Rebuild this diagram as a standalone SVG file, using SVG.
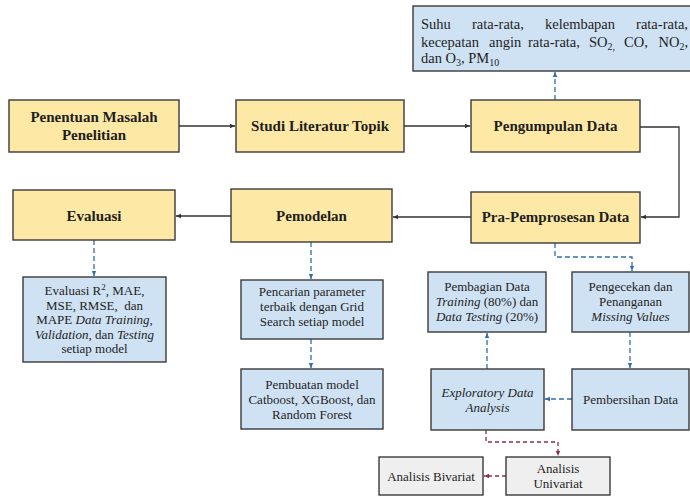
<svg xmlns="http://www.w3.org/2000/svg" width="690" height="496" viewBox="0 0 690 496">
<defs>
<marker id="aK" markerWidth="6" markerHeight="6" refX="5" refY="3" orient="auto" markerUnits="userSpaceOnUse"><path d="M0,0.8 L5,3 L0,5.2 z" fill="#333"/></marker>
<marker id="aB" markerWidth="6" markerHeight="6" refX="5" refY="3" orient="auto" markerUnits="userSpaceOnUse"><path d="M0,0.8 L5,3 L0,5.2 z" fill="#2f6fb0"/></marker>
<marker id="aM" markerWidth="6" markerHeight="6" refX="5" refY="3" orient="auto" markerUnits="userSpaceOnUse"><path d="M0,0.8 L5,3 L0,5.2 z" fill="#8e2a55"/></marker>
</defs>
<style>
.y{fill:#fde8a5;stroke:#3a3a3a;stroke-width:1.4}
.b{fill:#cfe2f3;stroke:#3a3a3a;stroke-width:1.4}
.g{fill:#efefef;stroke:#3a3a3a;stroke-width:1.4}
text{font-family:"Liberation Serif","Times New Roman",serif;fill:#1e1e1e}
.hb{font-size:15px;font-weight:bold;text-anchor:middle}
.n{font-size:13px;text-anchor:middle}
.tp{font-size:14.5px}
.sub{font-size:10px}
.s{fill:none;stroke:#333;stroke-width:1.3;marker-end:url(#aK)}
.d{fill:none;stroke:#2f6fb0;stroke-width:1.3;stroke-dasharray:5 3;marker-end:url(#aB)}
.m{fill:none;stroke:#8e2a55;stroke-width:1.3;stroke-dasharray:4 3;marker-end:url(#aM)}
</style>
<rect x="0" y="0" width="690" height="496" fill="#ffffff"/>

<g id="connectors">
<path class="s" d="M179,126 H235"/>
<path class="s" d="M404,126 H470"/>
<path class="s" d="M640,127 H679 V217 H641"/>
<path class="s" d="M471,217 H393"/>
<path class="s" d="M231,216 H176"/>
<path class="d" d="M555,100 V72"/>
<path class="d" d="M94,240 V276"/>
<path class="d" d="M311,242 V279"/>
<path class="d" d="M311,339 V368"/>
<path class="d" d="M555,243 V257 H632 V271"/>
<path class="d" d="M630,332 V368"/>
<path class="d" d="M572,399 H545"/>
<path class="d" d="M487,369 V333"/>
<path class="m" d="M486,430 V442 H558 V456"/>
<path class="m" d="M506,476 H484"/>
</g>

<g id="node-data-vars">
<rect class="b" x="413" y="6" width="290" height="65"/>
<text class="tp" x="421" y="29">Suhu</text>
<text class="tp" x="472" y="29">rata-rata,</text>
<text class="tp" x="545" y="29">kelembapan</text>
<text class="tp" x="688" y="29" text-anchor="end">rata-rata,</text>
<text class="tp" x="421" y="47">kecepatan</text>
<text class="tp" x="489" y="47">angin</text>
<text class="tp" x="528" y="47">rata-rata,</text>
<text class="tp" x="589" y="47">SO<tspan class="sub" dy="3">2,</tspan></text>
<text class="tp" x="624" y="47">CO,</text>
<text class="tp" x="688" y="47" text-anchor="end">NO<tspan class="sub" dy="3">2</tspan><tspan dy="-3">,</tspan></text>
<text class="tp" x="421" y="63">dan O<tspan class="sub" dy="3">3</tspan><tspan dy="-3">, PM</tspan><tspan class="sub" dy="3">10</tspan></text>
</g>

<g id="node-penentuan">
<rect class="y" x="9" y="100" width="170" height="52"/>
<text class="hb" x="94" y="122">Penentuan Masalah</text>
<text class="hb" x="94" y="140">Penelitian</text>
</g>
<g id="node-studi">
<rect class="y" x="236" y="100" width="168" height="52"/>
<text class="hb" x="320" y="131">Studi Literatur Topik</text>
</g>
<g id="node-pengumpulan">
<rect class="y" x="471" y="100" width="169" height="52"/>
<text class="hb" x="555.5" y="131">Pengumpulan Data</text>
</g>
<g id="node-evaluasi">
<rect class="y" x="13" y="190" width="162" height="50"/>
<text class="hb" x="94" y="221">Evaluasi</text>
</g>
<g id="node-pemodelan">
<rect class="y" x="231" y="189" width="161" height="53"/>
<text class="hb" x="311.5" y="221">Pemodelan</text>
</g>
<g id="node-pra">
<rect class="y" x="471" y="192" width="169" height="51"/>
<text class="hb" x="555.5" y="222">Pra-Pemprosesan Data</text>
</g>

<g id="node-eval-metrics">
<rect class="b" x="23" y="277" width="143" height="85"/>
<text class="n" x="94.5" y="295">Evaluasi R<tspan font-size="9" dy="-5">2</tspan><tspan dy="5">, MAE,</tspan></text>
<text class="n" x="94.5" y="309.5" xml:space="preserve">MSE, RMSE,  dan</text>
<text class="n" x="94.5" y="324">MAPE <tspan font-style="italic">Data Training</tspan>,</text>
<text class="n" x="94.5" y="338.5"><tspan font-style="italic">Validation</tspan>, dan <tspan font-style="italic">Testing</tspan></text>
<text class="n" x="94.5" y="353">setiap model</text>
</g>
<g id="node-pencarian">
<rect class="b" x="241" y="280" width="142" height="59"/>
<text class="n" x="312" y="296">Pencarian parameter</text>
<text class="n" x="312" y="311">terbaik dengan Grid</text>
<text class="n" x="312" y="326">Search setiap model</text>
</g>
<g id="node-pembuatan">
<rect class="b" x="241" y="369" width="142" height="60"/>
<text class="n" x="312" y="388.5">Pembuatan model</text>
<text class="n" x="312" y="403.5">Catboost, XGBoost, dan</text>
<text class="n" x="312" y="418.5">Random Forest</text>
</g>
<g id="node-pembagian">
<rect class="b" x="428" y="272" width="118" height="60"/>
<text class="n" x="487" y="291">Pembagian Data</text>
<text class="n" x="487" y="306"><tspan font-style="italic">Training</tspan> (80%) dan</text>
<text class="n" x="487" y="321"><tspan font-style="italic">Data Testing</tspan> (20%)</text>
</g>
<g id="node-pengecekan">
<rect class="b" x="572" y="272" width="117" height="60"/>
<text class="n" x="630.5" y="291">Pengecekan dan</text>
<text class="n" x="630.5" y="306">Penanganan</text>
<text class="n" x="630.5" y="321" font-style="italic">Missing Values</text>
</g>
<g id="node-eda">
<rect class="b" x="431" y="369" width="113" height="61"/>
<text class="n" x="487.5" y="396.5" font-style="italic">Exploratory Data</text>
<text class="n" x="487.5" y="411.5" font-style="italic">Analysis</text>
</g>
<g id="node-pembersihan">
<rect class="b" x="572" y="369" width="117" height="61"/>
<text class="n" x="630.5" y="404">Pembersihan Data</text>
</g>
<g id="node-bivariat">
<rect class="g" x="379" y="457" width="104" height="38"/>
<text class="n" x="431" y="480.5">Analisis Bivariat</text>
</g>
<g id="node-univariat">
<rect class="g" x="506" y="457" width="104" height="38"/>
<text class="n" x="558" y="473">Analisis</text>
<text class="n" x="558" y="488">Univariat</text>
</g>
</svg>
